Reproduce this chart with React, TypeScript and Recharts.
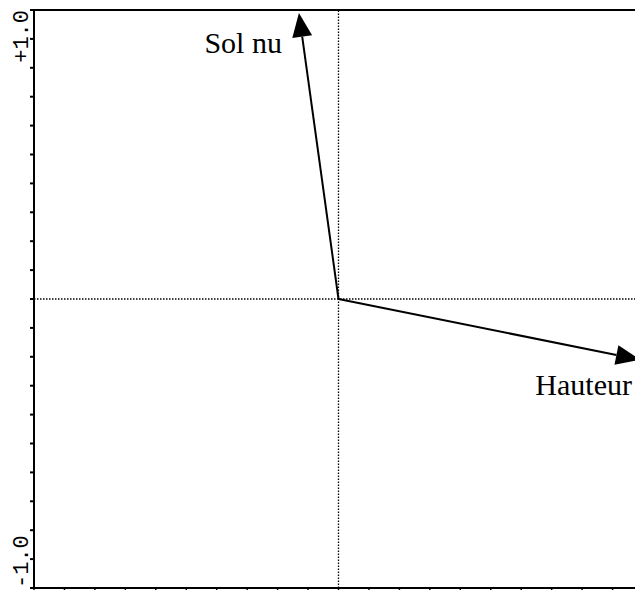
import React from 'react';
import { ComposedChart, ReferenceLine, Scatter, XAxis, YAxis } from 'recharts';

// variable vectors (correlation circle)
const vectorNames = ['Sol nu', 'Hauteur'];
const vectorX = [-0.13, 0.99];
const vectorY = [0.99, -0.21];

const axisTicks = [
  -1, -0.9, -0.8, -0.7, -0.6, -0.5, -0.4, -0.3, -0.2, -0.1, 0,
  0.1, 0.2, 0.3, 0.4, 0.5, 0.6, 0.7, 0.8, 0.9, 1
];
const yTickLabels: Record<string, string> = { '1': '+1.0', '-1': '-1.0' };

// label offsets from arrow tip, px
const labelDx = [-17, -8];
const labelDy = [40, 35];

const tips = vectorNames.map((name, i) => ({ name, x: vectorX[i], y: vectorY[i] }));

const YTick = (props: any) => {
  const { x, y, payload } = props;
  const label = yTickLabels[String(payload.value)];
  if (!label) return null;
  const top = payload.value > 0;
  const tx = x;
  return (
    <text
      x={tx}
      y={y}
      transform={`rotate(-90, ${tx}, ${y})`}
      textAnchor={top ? 'end' : 'start'}
      fontFamily='Liberation Mono'
      fontSize={22}
      fill='#000'
    >
      {label}
    </text>
  );
};

const arrowShape = (i: number) => (props: any) => {
  const { x1, y1, x2, y2 } = props;
  const dx = x2 - x1;
  const dy = y2 - y1;
  const len = Math.sqrt(dx * dx + dy * dy) || 1;
  const ux = dx / len;
  const uy = dy / len;
  const headLen = 24;
  const headW = 10;
  const bx = x2 - ux * headLen;
  const by = y2 - uy * headLen;
  const pts = `${x2},${y2} ${bx - uy * headW},${by + ux * headW} ${bx + uy * headW},${by - ux * headW}`;
  return (
    <g>
      <line x1={x1} y1={y1} x2={bx} y2={by} stroke='#000' strokeWidth={2} />
      <polygon points={pts} fill='#000' />
      <text
        x={x2 + labelDx[i]}
        y={y2 + labelDy[i]}
        textAnchor='end'
        fontFamily='Liberation Serif'
        fontSize={30}
        fill='#000'
      >
        {vectorNames[i]}
      </text>
    </g>
  );
};

export default function App() {
  return (
    <div style={{ position: 'absolute', left: 0, top: 0, width: 635, height: 590, overflow: 'hidden', background: '#fff' }}>
      <ComposedChart width={660} height={598} margin={{ top: 10, right: 17, bottom: 0, left: 0 }} data={tips}>
        <XAxis
          type='number'
          dataKey='x'
          domain={[-1, 1]}
          ticks={axisTicks}
          allowDataOverflow
          height={10}
          axisLine={{ stroke: '#000', strokeWidth: 2 }}
          tickLine={{ stroke: '#000', strokeWidth: 1.5 }}
          tickSize={4}
          tickFormatter={() => ''}
        />
        <YAxis
          type='number'
          dataKey='y'
          domain={[-1, 1]}
          ticks={axisTicks}
          allowDataOverflow
          width={34}
          axisLine={{ stroke: '#000', strokeWidth: 2 }}
          tickLine={{ stroke: '#000', strokeWidth: 2 }}
          tickSize={4}
          tick={<YTick />}
          interval={0}
        />
        <ReferenceLine y={1} stroke='#000' strokeWidth={2} ifOverflow='visible' />
        <ReferenceLine x={1} stroke='#000' strokeWidth={2} ifOverflow='visible' />
        <ReferenceLine x={0} stroke='#000' strokeWidth={1.3} strokeDasharray='1.5 1.5' />
        <ReferenceLine y={0} stroke='#000' strokeWidth={1.3} strokeDasharray='1.5 1.5' />
        {tips.map((t, i) => (
          <ReferenceLine
            key={t.name}
            segment={[{ x: 0, y: 0 }, { x: t.x, y: t.y }]}
            ifOverflow='visible'
            shape={arrowShape(i)}
          />
        ))}
        <Scatter dataKey='y' isAnimationActive={false} shape={() => null} />
      </ComposedChart>
    </div>
  );
}
